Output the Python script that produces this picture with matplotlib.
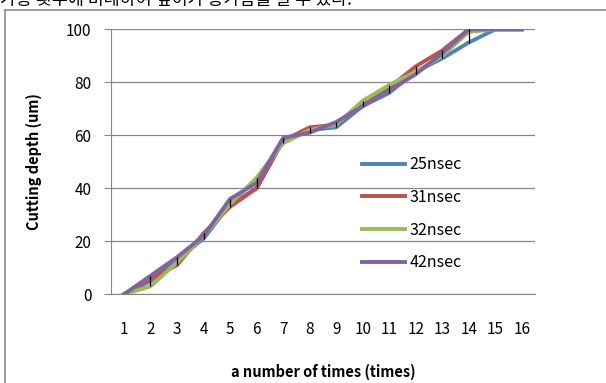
import matplotlib.pyplot as plt
from matplotlib.lines import Line2D

plt.rcParams['font.family'] = ['Noto Sans CJK KR', 'DejaVu Sans']

times = list(range(1, 17))
labels = ['25nsec', '31nsec', '32nsec', '42nsec']
d25 = [0, 5, 13, 21, 34, 40, 58, 62, 63, 71, 76, 84, 89, 95, 100, 100]
d31 = [0, 6, 11, 23, 33, 40, 58, 63, 64, 72, 78, 86, 92, 100, 100, 100]
d32 = [0, 3, 12, 22, 34, 44, 57, 62, 64, 73, 79, 84, 90, 99, 100, 100]
d42 = [0, 7, 14, 22, 36, 42, 59, 61, 65, 71, 77, 83, 91, 100, 100, 100]
colors = ['#4F81BD', '#C0504D', '#9BBB59', '#8064A2']

fig = plt.figure(figsize=(6.06, 3.83), dpi=100)
ax = fig.add_axes([0.1827, 0.2316, 0.7002, 0.6919])

grid_c = '#868686'
for series, lab, c in zip([d25, d31, d32, d42], labels, colors):
    ax.plot(times, series, color=c, lw=2.8, label=lab, solid_joinstyle='round', zorder=3)

# high-low lines
lows = [min(v) for v in zip(d25, d31, d32, d42)]
highs = [max(v) for v in zip(d25, d31, d32, d42)]
ax.vlines(times, lows, highs, color='black', lw=0.9, zorder=4)

ax.set_xlim(0.5, 16.5)
ax.set_ylim(0, 100)
ax.set_xticks(times)
ax.set_yticks([0, 20, 40, 60, 80, 100])
ax.yaxis.grid(True, color=grid_c, lw=0.9)
ax.set_axisbelow(True)
for s in ['top', 'right']:
    ax.spines[s].set_visible(False)
ax.spines['left'].set_color(grid_c)
ax.spines['bottom'].set_color(grid_c)
ax.tick_params(axis='x', length=0, pad=19, labelsize=11, colors='black')
ax.tick_params(axis='y', length=5, pad=9, labelsize=11, color=grid_c, labelcolor='black')

ax.set_ylabel('Cutting depth (um)', fontsize=10.5, fontweight='bold', labelpad=17)
ax.set_xlabel('a number of times (times)', fontsize=10.5, fontweight='bold', labelpad=19)

ax.legend(loc='upper left', bbox_to_anchor=(0.578, 0.545), frameon=False,
          fontsize=11.5, handlelength=2.7, handletextpad=0.25, labelspacing=0.98,
          borderaxespad=0)

# chart area frame (only top and left edges fall inside the picture)
fig.add_artist(Line2D([5 / 606, 5 / 606], [0, 1 - 10 / 383], color='#8c8c8c', lw=1.2,
                      transform=fig.transFigure))
fig.add_artist(Line2D([5 / 606, 1], [1 - 10 / 383, 1 - 10 / 383], color='#8c8c8c', lw=1.2,
                      transform=fig.transFigure))

# body text of the page above the chart, mostly cut off
fig.text(0.0, 1 - 5 / 383, '가공 횟수에 비례하여 깊이가 증가함을 알 수 있다.',
         fontsize=12.5, va='baseline', ha='left')

fig.savefig('out.png', dpi=100)
